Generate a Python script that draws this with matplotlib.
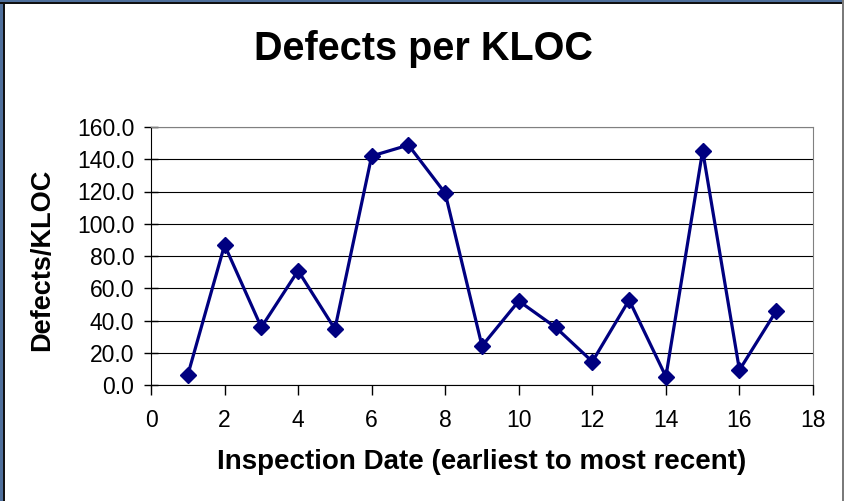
import matplotlib.pyplot as plt
from matplotlib.patches import Rectangle
from matplotlib.ticker import FormatStrFormatter

plt.rcParams["font.family"] = ["Liberation Sans", "DejaVu Sans"]

# inspection number and defects per KLOC
inspection = [1, 2, 3, 4, 5, 6, 7, 8, 9, 10, 11, 12, 13, 14, 15, 16, 17]
defects = [6.2, 86.8, 35.8, 70.9, 34.7, 142.0, 148.8, 118.9, 24.2, 52.1,
           35.8, 14.5, 52.7, 5.2, 145.3, 9.3, 45.9]

x_ticks = [0, 2, 4, 6, 8, 10, 12, 14, 16, 18]
y_ticks = [0, 20, 40, 60, 80, 100, 120, 140, 160]

fig = plt.figure(figsize=(8.44, 5.01), dpi=100)

# window frame around the slide
fig.add_artist(Rectangle((0, 0), 3 / 844, 1, transform=fig.transFigure,
                         color="#4f6f9b", lw=0))
fig.add_artist(Rectangle((3 / 844, 0), 2 / 844, 1, transform=fig.transFigure,
                         color="#111111", lw=0))
fig.add_artist(Rectangle((0, 1 - 2 / 501), 1, 2 / 501, transform=fig.transFigure,
                         color="#4f6f9b", lw=0))
fig.add_artist(Rectangle((0, 1 - 4 / 501), 1, 2 / 501, transform=fig.transFigure,
                         color="#111111", lw=0))
fig.add_artist(Rectangle((1 - 2 / 844, 0), 2 / 844, 1, transform=fig.transFigure,
                         color="#7a7a7a", lw=0))

ax = fig.add_axes([151 / 844, 1 - 385 / 501, 662 / 844, 258 / 501])

ax.plot(inspection, defects, color="#000080", lw=2.3, marker="D",
        markersize=8.5, zorder=3)

ax.set_xlim(0, 18)
ax.set_ylim(0, 160)
ax.set_xticks(x_ticks)
ax.set_yticks(y_ticks)
ax.yaxis.set_major_formatter(FormatStrFormatter("%.1f"))
ax.tick_params(axis="y", direction="inout", length=10, width=1, labelsize=16.5,
               pad=7)
ax.tick_params(axis="x", direction="out", length=7, width=1, labelsize=16.5,
               pad=10)

ax.grid(axis="y", color="black", lw=0.8)
ax.set_axisbelow(True)
for side in ["top", "right"]:
    ax.spines[side].set_color("#808080")
for side in ["left", "bottom"]:
    ax.spines[side].set_color("black")

fig.text(423 / 844, 1 - 49 / 501, "Defects per KLOC", ha="center", va="center",
         fontsize=28.5, fontweight="bold")
ax.set_xlabel("Inspection Date (earliest to most recent)", fontsize=20,
              fontweight="bold", va="center")
ax.xaxis.set_label_coords(0.5, (385 - 462) / 258)
ax.set_ylabel("Defects/KLOC", fontsize=19.5, fontweight="bold", va="center")
ax.yaxis.set_label_coords((42 - 151) / 662, (385 - 260) / 258)

fig.savefig("out.png", dpi=100)
